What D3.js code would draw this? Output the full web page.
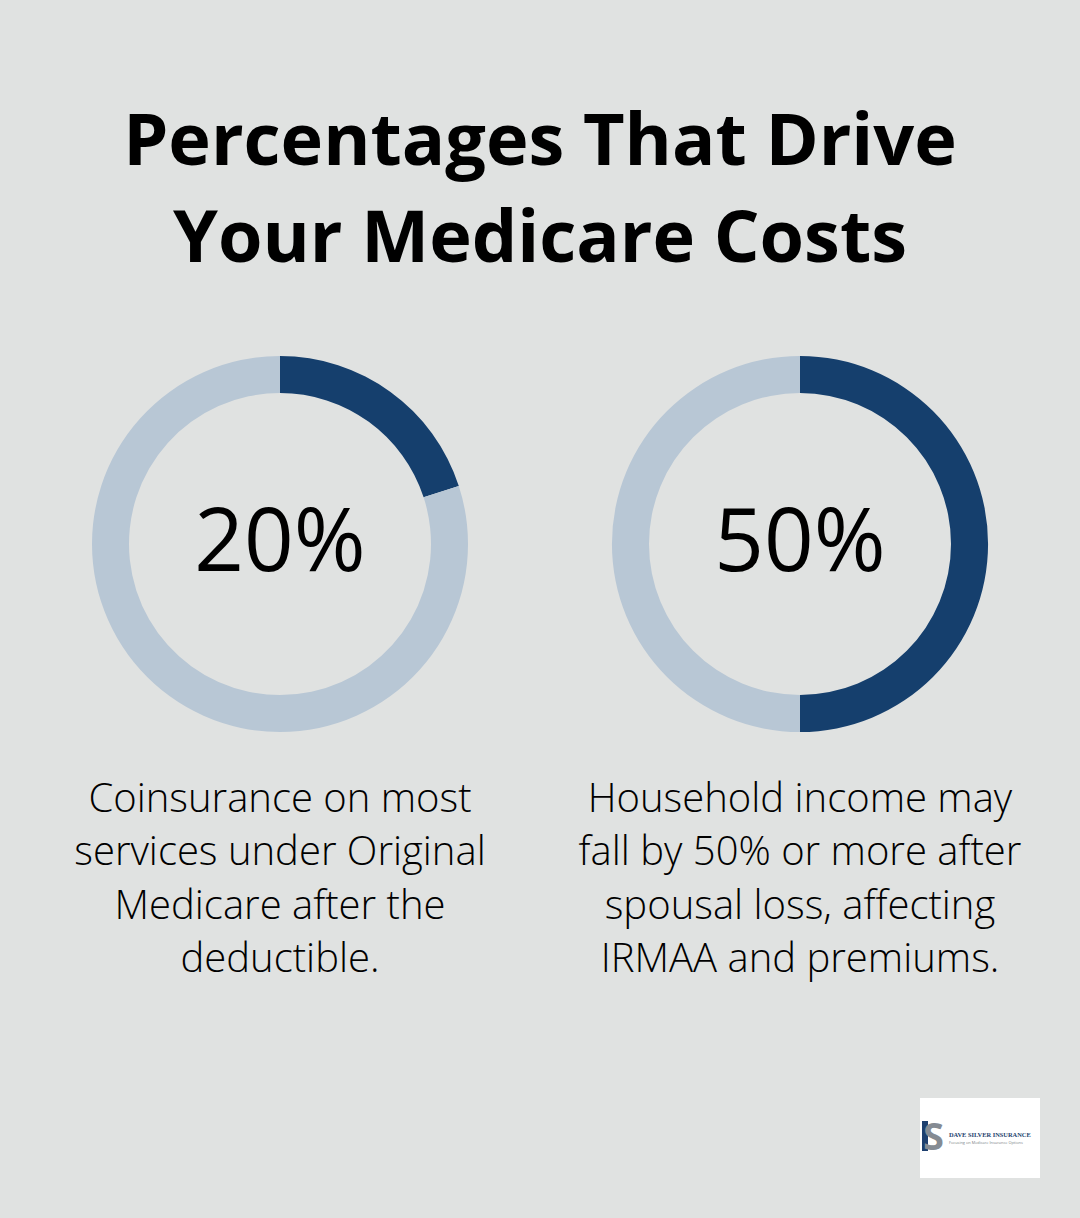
<!DOCTYPE html>
<html lang="en">
<head>
<meta charset="UTF-8">
<title>Percentages That Drive Your Medicare Costs</title>
<script src="https://cdn.jsdelivr.net/npm/d3@7"></script>
<style>
body { margin: 0; background: #e0e2e1; }
svg { display: block; font-family: "Open Sans", sans-serif; }
</style>
</head>
<body>
<svg id="chart" width="1080" height="1218"></svg>
<script>
// data
const titleLines = ["Percentages That Drive", "Your Medicare Costs"];
const values = [20, 50];
const labels = ["20%", "50%"];
const captions = [
    ["Coinsurance on most", "services under Original", "Medicare after the", "deductible."],
    ["Household income may", "fall by 50% or more after", "spousal loss, affecting", "IRMAA and premiums."]
];

const W = 1080, H = 1218;
const DARK = "#153f6d";
const LIGHT = "#b8c7d5";
const OUTER_R = 188;
const INNER_R = 151;
const CENTER_Y = 544;

const svg = d3.select("#chart");
svg.append("rect").attr("width", W).attr("height", H).attr("fill", "#e0e2e1");

// title
svg.append("g").selectAll("text")
    .data(titleLines)
    .join("text")
    .attr("x", W / 2)
    .attr("y", (d, i) => 165 + i * 97)
    .attr("text-anchor", "middle")
    .attr("font-weight", 700)
    .attr("font-size", 72)
    .attr("fill", "#000")
    .text(d => d);

const x = d3.scalePoint().domain(d3.range(values.length)).range([280, 800]);
const arc = d3.arc().innerRadius(INNER_R).outerRadius(OUTER_R);
const pie = d3.pie().sort(null).value(d => d);

values.forEach((v, i) => {
    const g = svg.append("g").attr("transform", `translate(${x(i)},${CENTER_Y})`);
    g.selectAll("path")
        .data(pie([v, 100 - v]))
        .join("path")
        .attr("d", arc)
        .attr("fill", (d, j) => j === 0 ? DARK : LIGHT);
    g.append("text")
        .attr("text-anchor", "middle")
        .attr("y", 27)
        .attr("font-size", 87)
        .attr("font-weight", 400)
        .attr("fill", "#000")
        .text(labels[i]);

    svg.append("g").selectAll("text")
        .data(captions[i])
        .join("text")
        .attr("x", x(i))
        .attr("y", (d, k) => 812 + k * 53.3)
        .attr("text-anchor", "middle")
        .attr("font-size", 40)
        .attr("font-weight", 300)
        .attr("fill", "#000")
        .text(d => d);
});

// logo badge
const logo = svg.append("g").attr("transform", "translate(920,1098)");
logo.append("rect").attr("width", 120).attr("height", 80).attr("fill", "#fff");
logo.append("rect").attr("x", 2).attr("y", 23).attr("width", 6).attr("height", 30).attr("fill", "#1d3f6e");
logo.append("text").attr("x", 3).attr("y", 52).attr("font-size", 38).attr("font-weight", 700)
    .attr("fill", "#858b93").text("S");
logo.append("text").attr("x", 29).attr("y", 39).attr("font-size", 6.4).attr("font-weight", 700)
    .attr("font-family", "Liberation Serif, serif").attr("fill", "#1d3f6e").text("DAVE SILVER INSURANCE");
logo.append("text").attr("x", 29).attr("y", 45.5).attr("font-size", 3.9).attr("fill", "#7a7f86")
    .text("Focusing on Medicare Insurance Options");
</script>
</body>
</html>
